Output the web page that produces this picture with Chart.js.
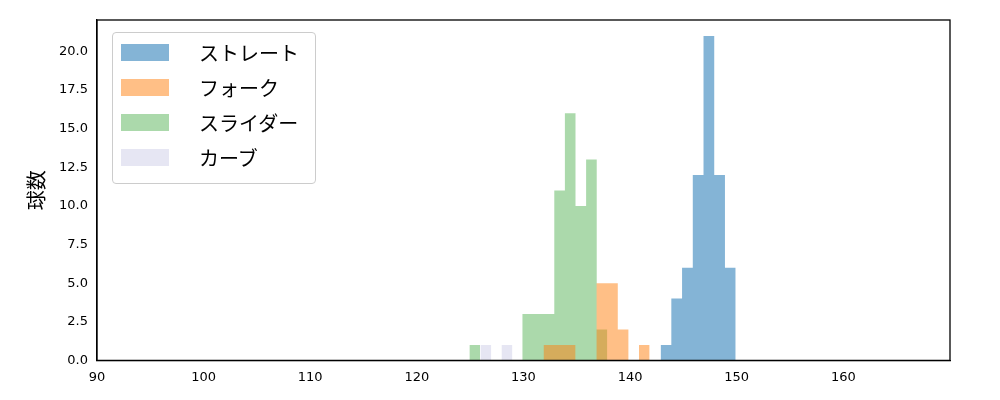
<!DOCTYPE html>
<html><head><meta charset="utf-8">
<script src="https://cdn.jsdelivr.net/npm/chart.js@4"></script>
<style>
body{margin:0;background:#fff;font-family:"DejaVu Sans",sans-serif}
#wrap{position:relative;width:1000px;height:400px}
#legend{position:absolute;left:112px;top:32px;width:202px;height:150px;border:1px solid #ccc;border-radius:4px;background:rgba(255,255,255,0.8);font-family:"Noto Sans CJK JP";font-size:20px}
.it{position:absolute;left:8px;height:26px;display:flex;align-items:center}
.sw{width:48px;height:17px;margin-right:30px}
</style></head><body>
<div id="wrap"><canvas id="c" width="1000" height="400"></canvas>
<div id="legend"></div></div>
<script>
const names=["ストレート","フォーク","スライダー","カーブ"];
const colors=["rgba(31,119,180,0.55)","rgba(255,127,14,0.5)","rgba(44,160,44,0.4)","rgba(200,200,228,0.45)"];
const straightStart=142.86, straightWidth=1.006, straightCounts=[1,4,6,12,21,12,6];
const forkStart=131.88, forkWidth=0.995, forkCounts=[1,1,1,0,0,5,5,2,0,1];
const sliderStart=124.93, sliderWidth=0.995, sliderCounts=[1,0,0,0,0,3,3,3,11,16,10,13,2];
const curveStart=125.96, curveWidth=1.0, curveCounts=[1,0,1];
const xTicks=[90,100,110,120,130,140,150,160];
function steps(s,w,c){const p=[{x:s,y:0}];c.forEach((v,i)=>{p.push({x:s+i*w,y:v});p.push({x:s+(i+1)*w,y:v});});p.push({x:s+c.length*w,y:0});return p;}
const series=[[straightStart,straightWidth,straightCounts],[forkStart,forkWidth,forkCounts],[sliderStart,sliderWidth,sliderCounts],[curveStart,curveWidth,curveCounts]];
const lg=document.getElementById('legend');
names.forEach((n,i)=>{const d=document.createElement('div');d.className='it';d.style.top=(6+i*35)+'px';d.innerHTML='<div class="sw" style="background:'+colors[i]+'"></div>'+n;lg.appendChild(d);});
new Chart(document.getElementById('c'),{type:'line',
data:{datasets:series.map((s,i)=>({label:names[i],data:steps(...s),fill:'origin',tension:0,backgroundColor:colors[i],borderWidth:0,pointRadius:0}))},
options:{responsive:false,animation:false,layout:{padding:{left:20,right:50,top:20,bottom:12}},
plugins:{legend:{display:false},tooltip:{enabled:false}},
scales:{x:{type:'linear',min:90,max:170,border:{color:'#000',width:1.3},
afterBuildTicks:a=>{a.ticks=xTicks.map(v=>({value:v}));},
ticks:{color:'#000',font:{size:13,family:'DejaVu Sans'},autoSkip:false,maxRotation:0},grid:{display:false,drawTicks:true,tickLength:6}},
y:{min:0,max:22.03,grid:{display:false,tickLength:6},border:{color:'#000',width:1.3},
afterBuildTicks:a=>{a.ticks=[0,2.5,5,7.5,10,12.5,15,17.5,20].map(v=>({value:v}));},
ticks:{color:'#000',font:{size:13,family:'DejaVu Sans'},callback:v=>v.toFixed(1)},
title:{display:true,text:'球数',color:'#000',padding:{bottom:8},font:{size:20,family:'Noto Sans CJK JP'}}}}},
plugins:[{id:'frame',afterDraw(c){const a=c.chartArea,x=c.ctx;x.save();x.strokeStyle='#000';x.lineWidth=1.3;x.strokeRect(a.left,a.top,a.right-a.left,a.bottom-a.top);x.restore();}}]
});
</script></body></html>
